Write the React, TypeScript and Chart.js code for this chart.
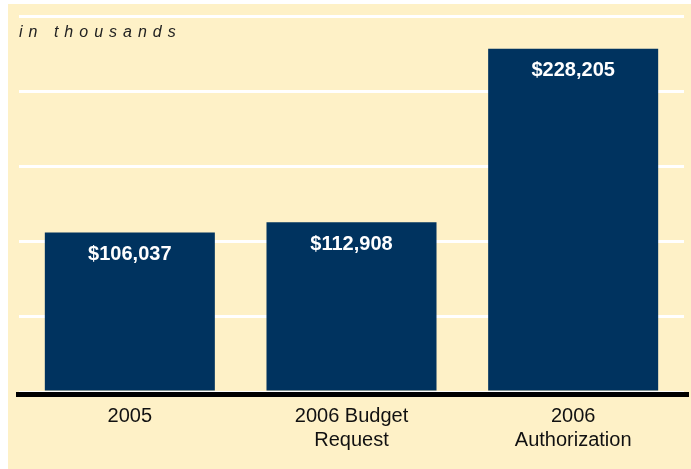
import React, { useEffect, useRef } from "react";
import { Chart, registerables } from "chart.js";

Chart.register(...registerables);

const categories: string[][] = [["2005"], ["2006 Budget", "Request"], ["2006", "Authorization"]];
const values: number[] = [106037, 112908, 228205];
const valueLabels: string[] = ["$106,037", "$112,908", "$228,205"];
const unitNote = "in thousands";

const BAR = "#00335f";
const BG = "#fef1c7";

export default function App() {
  const ref = useRef<HTMLCanvasElement | null>(null);
  useEffect(() => {
    if (!ref.current) return;
    const decoPlugin = {
      id: "deco",
      afterDatasetsDraw(chart: any) {
        const { ctx, chartArea } = chart;
        ctx.save();
        ctx.fillStyle = "#000";
        ctx.fillRect(chartArea.left - 3, chartArea.bottom, chartArea.right - chartArea.left + 8, 5);
        const meta = chart.getDatasetMeta(0);
        ctx.fillStyle = "#ffffff";
        ctx.font = "bold 20px 'Liberation Sans', Arial, sans-serif";
        ctx.textAlign = "center";
        ctx.textBaseline = "middle";
        meta.data.forEach((bar: any, i: number) => {
          ctx.fillText(valueLabels[i], bar.x, bar.y + 22);
        });
        ctx.fillStyle = "#222";
        ctx.font = "italic 16px 'Liberation Sans', Arial, sans-serif";
        ctx.textAlign = "left";
        (ctx as any).letterSpacing = "6px";
        ctx.fillText(unitNote, 11, 29);
        ctx.restore();
      },
    };
    const chart = new Chart(ref.current, {
      type: "bar",
      data: {
        labels: categories,
        datasets: [
          {
            data: values,
            backgroundColor: BAR,
            barPercentage: 0.767,
            categoryPercentage: 1,
          },
        ],
      },
      options: {
        animation: false,
        responsive: false,
        maintainAspectRatio: false,
        layout: { padding: { top: 12, left: 11, right: 7, bottom: 0 } },
        plugins: { legend: { display: false }, tooltip: { enabled: false } },
        scales: {
          x: {
            grid: { display: false, drawTicks: false },
            border: { display: false },
            ticks: {
              color: "#111",
              padding: 12,
              font: { family: "'Liberation Sans', Arial, sans-serif", size: 20, lineHeight: 1.2 },
              maxRotation: 0,
            },
            afterFit(scale: any) {
              scale.height = 77;
            },
          },
          y: {
            min: 0,
            max: 250000,
            ticks: { display: false, stepSize: 50000 },
            grid: { color: "#ffffff", lineWidth: 3, drawTicks: false },
            border: { display: false },
            afterFit(scale: any) {
              scale.width = 0;
            },
          },
        },
      },
      plugins: [decoPlugin],
    });
    return () => chart.destroy();
  }, []);
  return (
    <div
      style={{
        position: "fixed",
        left: 8,
        top: 4,
        right: 0,
        bottom: 0,
        background: BG,
        overflow: "hidden",
      }}
    >
      <canvas ref={ref} width={683} height={465} style={{ display: "block" }} />
    </div>
  );
}
